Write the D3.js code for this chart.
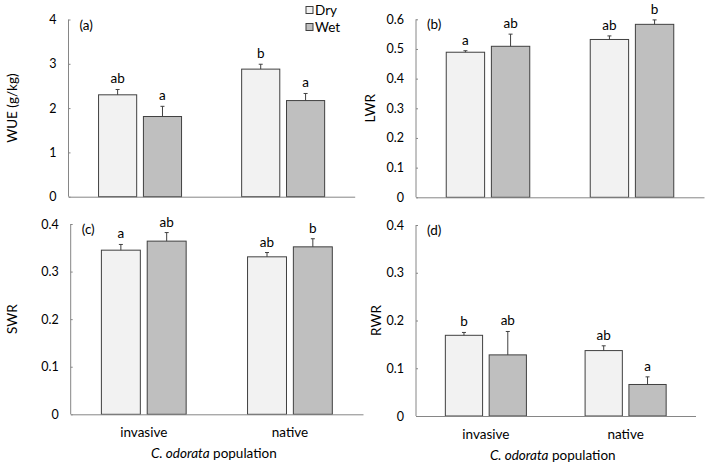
<!DOCTYPE html>
<html><head><meta charset="utf-8">
<script src="https://cdn.jsdelivr.net/npm/d3@7"></script>
<style>body{margin:0;background:#fff}svg{display:block}text{font-family:Lato,"Liberation Sans",sans-serif;fill:#000}</style>
</head><body><svg id="c" width="708" height="467"></svg>
<script>
const categories = ["invasive", "native"];
const series = ["Dry", "Wet"];

const wueDry = [2.30, 2.88], wueDryErr = [0.12, 0.11], wueDryLet = ["ab", "b"];
const wueWet = [1.81, 2.17], wueWetErr = [0.23, 0.16], wueWetLet = ["a", "a"];
const wueTicks = [0, 1, 2, 3, 4];

const lwrDry = [0.489, 0.532], lwrDryErr = [0.005, 0.012], lwrDryLet = ["a", "ab"];
const lwrWet = [0.509, 0.583], lwrWetErr = [0.041, 0.015], lwrWetLet = ["ab", "b"];
const lwrTicks = [0, 0.1, 0.2, 0.3, 0.4, 0.5, 0.6];

const swrDry = [0.345, 0.331], swrDryErr = [0.012, 0.009], swrDryLet = ["a", "ab"];
const swrWet = [0.364, 0.352], swrWetErr = [0.018, 0.017], swrWetLet = ["ab", "b"];
const swrTicks = [0, 0.1, 0.2, 0.3, 0.4];

const rwrDry = [0.169, 0.137], rwrDryErr = [0.006, 0.010], rwrDryLet = ["b", "ab"];
const rwrWet = [0.128, 0.066], rwrWetErr = [0.049, 0.016], rwrWetLet = ["ab", "a"];
const rwrTicks = [0, 0.1, 0.2, 0.3, 0.4];

const fills = {Dry: "#f2f2f2", Wet: "#bfbfbf"};
const svg = d3.select("#c");
const FONT = "Lato, 'Liberation Sans', sans-serif";

function panel(o) {
  const g = svg.append("g");
  const x = d3.scaleBand().domain(categories).range([o.x0, o.x1]);
  const bw = x.bandwidth();
  const xs = d3.scaleBand().domain(series).range([bw * 0.21, bw * 0.79]).paddingInner(0.15);
  const y = d3.scaleLinear().domain([0, o.max]).range([o.yb, o.yt]);
  const rows = [];
  categories.forEach((c, i) => {
    rows.push({c, s: "Dry", v: o.dry[i], e: o.dryErr[i], l: o.dryLet[i]});
    rows.push({c, s: "Wet", v: o.wet[i], e: o.wetErr[i], l: o.wetLet[i]});
  });
  g.selectAll("rect.bar").data(rows).join("rect")
    .attr("x", d => x(d.c) + xs(d.s)).attr("width", xs.bandwidth())
    .attr("y", d => y(d.v)).attr("height", d => y(0) - y(d.v))
    .attr("fill", d => fills[d.s]).attr("stroke", "#404040").attr("stroke-width", 1);
  const cx = d => x(d.c) + xs(d.s) + xs.bandwidth() / 2;
  g.selectAll("line.err").data(rows).join("line")
    .attr("x1", cx).attr("x2", cx).attr("y1", d => y(d.v)).attr("y2", d => y(d.v + d.e))
    .attr("stroke", "#404040");
  g.selectAll("line.cap").data(rows).join("line")
    .attr("x1", d => cx(d) - 2).attr("x2", d => cx(d) + 2).attr("y1", d => y(d.v + d.e)).attr("y2", d => y(d.v + d.e))
    .attr("stroke", "#404040");
  g.selectAll("text.let").data(rows).join("text")
    .attr("x", cx).attr("y", d => y(d.v + d.e) - 6).attr("text-anchor", "middle")
    .attr("font-size", 13.5).text(d => d.l);
  const ya = g.append("g").attr("transform", `translate(${o.x0},0)`)
    .call(d3.axisLeft(y).tickValues(o.ticks).tickSize(-2).tickPadding(12).tickFormat(d => d === 0 ? "0" : d3.format(o.fmt)(d)));
  ya.select(".domain").attr("stroke", "#868686").attr("d", `M0,${o.yb}V${o.yt}`);
  ya.selectAll(".tick line").attr("stroke", "#868686");
  ya.selectAll(".tick text").attr("font-size", 12.5).attr("font-family", FONT).attr("fill", "#000");
  const xa = g.append("g").attr("transform", `translate(0,${o.yb})`)
    .call(d3.axisBottom(x).tickSize(0).tickPadding(13));
  xa.select(".domain").attr("stroke", "#868686");
  xa.selectAll(".tick text").attr("font-size", 13.5).attr("font-family", FONT).attr("fill", "#000")
    .style("display", o.showX ? null : "none");
  if (o.showX) {
    const t = g.append("text").attr("x", (o.x0 + o.x1) / 2 - 3).attr("y", o.yb + 44).attr("text-anchor", "middle").attr("font-size", 13.5);
    t.append("tspan").attr("font-style", "italic").text("C. odorata");
    t.append("tspan").text(" population");
  }
  g.append("text").attr("transform", `translate(${o.ylx},${(o.yb + o.yt) / 2}) rotate(-90)`)
    .attr("text-anchor", "middle").attr("dy", "0.35em").attr("font-size", 13.5).text(o.ylabel);
  g.append("text").attr("x", o.x0 + 11).attr("y", o.yt + 10).attr("font-size", 13.5).text(o.tag);
}

panel({x0: 68.5, x1: 354.7, yb: 196.7, yt: 19.5, max: 4, ticks: wueTicks, fmt: "d",
  dry: wueDry, dryErr: wueDryErr, dryLet: wueDryLet, wet: wueWet, wetErr: wueWetErr, wetLet: wueWetLet,
  ylabel: "WUE (g/kg)", ylx: 12, tag: "(a)", showX: false});
panel({x0: 416, x1: 704, yb: 197.3, yt: 19.3, max: 0.6, ticks: lwrTicks, fmt: ".1f",
  dry: lwrDry, dryErr: lwrDryErr, dryLet: lwrDryLet, wet: lwrWet, wetErr: lwrWetErr, wetLet: lwrWetLet,
  ylabel: "LWR", ylx: 370, tag: "(b)", showX: false});
panel({x0: 70.7, x1: 363, yb: 414.3, yt: 224, max: 0.4, ticks: swrTicks, fmt: ".1f",
  dry: swrDry, dryErr: swrDryErr, dryLet: swrDryLet, wet: swrWet, wetErr: swrWetErr, wetLet: swrWetLet,
  ylabel: "SWR", ylx: 12, tag: "(c)", showX: true});
panel({x0: 416, x1: 695.5, yb: 416, yt: 225, max: 0.4, ticks: rwrTicks, fmt: ".1f",
  dry: rwrDry, dryErr: rwrDryErr, dryLet: rwrDryLet, wet: rwrWet, wetErr: rwrWetErr, wetLet: rwrWetLet,
  ylabel: "RWR", ylx: 376, tag: "(d)", showX: true});

const lg = svg.append("g");
series.forEach((s, i) => {
  lg.append("rect").attr("x", 306).attr("y", 6.5 + i * 17).attr("width", 7).attr("height", 7)
    .attr("fill", fills[s]).attr("stroke", "#404040");
  lg.append("text").attr("x", 315).attr("y", 10 + i * 17).attr("dy", "0.35em").attr("font-size", 13.5).text(s);
});
</script></body></html>
